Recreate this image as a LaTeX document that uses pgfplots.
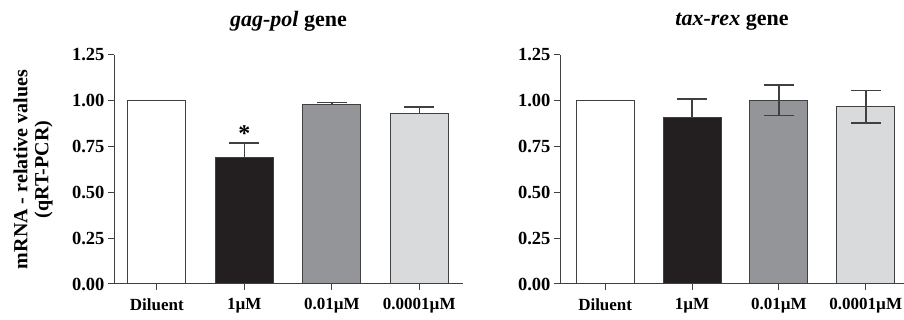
\documentclass[border=0pt]{standalone}
\usepackage{fontspec}
\setmainfont{Liberation Serif}
\usepackage{pgfplots}
\pgfplotsset{compat=1.18}
\definecolor{axgray}{HTML}{404040}
\definecolor{barblack}{HTML}{231F20}
\definecolor{barmid}{HTML}{939598}
\definecolor{barlight}{HTML}{D9DADB}
\pgfplotsset{
  panel/.style={
    scale only axis,
    height=229pt,
    ymin=0, ymax=1.25,
    ytick={0,0.25,0.5,0.75,1,1.25},
    xtick={0,1,2,3},
    xticklabels={Diluent,1µM,0.01µM,0.0001µM},
    axis lines=left,
    axis line style={-, draw=axgray, line width=1pt},
    tick align=outside,
    major tick length=6pt,
    tick style={draw=axgray, line width=1pt},
    tick label style={font=\fontsize{17}{20}\selectfont\bfseries},
    xticklabel style={yshift=-5pt},
    yticklabel style={font=\fontsize{18.5}{20}\selectfont\bfseries},
    /pgf/number format/assume math mode=true,
    yticklabel style={/pgf/number format/.cd, fixed, fixed zerofill, precision=2},
    ybar, bar width=58pt, bar shift=0pt,
    every axis plot/.append style={draw=axgray, line width=1pt},
    title style={font=\fontsize{22}{24}\selectfont\bfseries, at={(axis description cs:0.5,1.12)}, anchor=center},
    clip=false,
  },
  ebar/.style={error bars/.cd, y dir=#1, y explicit,
    error bar style={draw=axgray, line width=1.5pt},
    error mark options={rotate=90, mark size=15pt, line width=1.5pt, draw=axgray}},
}
\begin{document}
\begin{tikzpicture}[x=1pt,y=1pt]
\useasboundingbox (0,0) rectangle (904,320);
\begin{axis}[panel, at={(114pt,36pt)}, anchor=south west,
  width=349pt, xmin=-0.49, xmax=3.5,
  title={\itshape gag-pol\upshape\ gene},
  ylabel={mRNA - relative values\\(qRT-PCR)},
  ylabel style={font=\fontsize{20}{21}\selectfont\bfseries, align=center, at={(axis description cs:-0.232,0.5)}, anchor=center}]
\addplot[fill=white] coordinates {(0,1.00)};
\addplot[fill=barblack, ebar=plus] coordinates {(1,0.689) +- (0,0.081)};
\addplot[fill=barmid, ebar=plus] coordinates {(2,0.978) +- (0,0.012)};
\addplot[fill=barlight, ebar=plus] coordinates {(3,0.929) +- (0,0.037)};
\node[font=\fontsize{24}{24}\selectfont\bfseries] at (axis cs:1,0.82) {*};
\end{axis}
\begin{axis}[panel, at={(560pt,36pt)}, anchor=south west,
  width=344pt, xmin=-0.52, xmax=3.44,
  title={\itshape tax-rex\upshape\ gene}]
\addplot[fill=white] coordinates {(0,1.00)};
\addplot[fill=barblack, ebar=plus] coordinates {(1,0.910) +- (0,0.099)};
\addplot[fill=barmid, ebar=both] coordinates {(2,1.004) +- (0,0.083)};
\addplot[fill=barlight, ebar=both] coordinates {(3,0.967) +- (0,0.088)};
\end{axis}
\end{tikzpicture}
\end{document}
